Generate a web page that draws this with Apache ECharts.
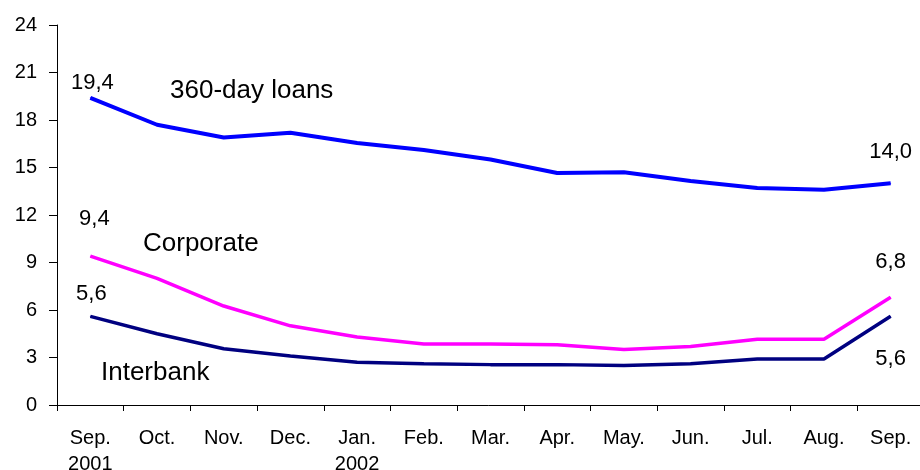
<!DOCTYPE html>
<html>
<head>
<meta charset="utf-8">
<script src="https://cdn.jsdelivr.net/npm/echarts@6/dist/echarts.min.js"></script>
<style>
  html, body { margin: 0; padding: 0; background: #fff; }
  #chart { width: 920px; height: 470px; }
</style>
</head>
<body>
<div id="chart"></div>
<script>
// Monthly interest rates, Sep. 2001 – Sep. 2002 (%)
const months = ['Sep.\n2001', 'Oct.', 'Nov.', 'Dec.', 'Jan.\n2002', 'Feb.', 'Mar.', 'Apr.', 'May.', 'Jun.', 'Jul.', 'Aug.', 'Sep.'];
const loans360 = [19.4, 17.7, 16.9, 17.2, 16.55, 16.1, 15.5, 14.65, 14.7, 14.15, 13.7, 13.6, 14.0];
const corporate = [9.4, 8.0, 6.25, 5.0, 4.3, 3.85, 3.85, 3.8, 3.5, 3.7, 4.15, 4.15, 6.8];
const interbank = [5.6, 4.5, 3.55, 3.1, 2.7, 2.6, 2.55, 2.55, 2.5, 2.6, 2.9, 2.9, 5.6];
const yTicks = [0, 3, 6, 9, 12, 15, 18, 21, 24];

const FONT = 'Liberation Sans, Arial, sans-serif';

// Show the value (with decimal comma) at the first and last point only
function endLabels(values) {
  return values.map((v, i) => {
    const item = { value: v };
    if (i === 0 || i === values.length - 1) {
      item.label = {
        show: true,
        position: 'top',
        formatter: p => p.value.toFixed(1).replace('.', ','),
        fontFamily: FONT,
        fontSize: 22,
        color: '#000'
      };
    }
    return item;
  });
}

// firstShift / lastShift: [dx, dy] nudges for the two end labels
function lineSeries(name, color, width, values, firstShift, lastShift) {
  const last = values.length - 1;
  return {
    name, type: 'line',
    symbol: 'circle', symbolSize: 1, showSymbol: true,
    itemStyle: { color: color },
    lineStyle: { color: color, width: width },
    labelLayout: p => {
      const s = p.dataIndex === last ? lastShift : firstShift;
      return { dx: s[0], dy: s[1], hideOverlap: false };
    },
    data: endLabels(values)
  };
}

const chart = echarts.init(document.getElementById('chart'));
chart.setOption({
  animation: false,
  backgroundColor: '#fff',
  grid: {
    left: 57, top: 25, width: 867, height: 380,
    containLabel: false, outerBoundsMode: 'none'
  },
  xAxis: {
    type: 'category',
    data: months,
    boundaryGap: true,
    axisLine: { lineStyle: { color: '#000', width: 1 } },
    axisTick: { show: true, length: 6, lineStyle: { color: '#000' } },
    axisLabel: {
      fontFamily: FONT, fontSize: 20, color: '#000',
      margin: 20, lineHeight: 26, interval: 0
    },
    splitLine: { show: false }
  },
  yAxis: {
    type: 'value',
    min: yTicks[0],
    max: yTicks[yTicks.length - 1],
    interval: 3,
    axisLine: { show: true, lineStyle: { color: '#000', width: 1 } },
    axisTick: { show: true, length: 8, lineStyle: { color: '#000' } },
    axisLabel: { fontFamily: FONT, fontSize: 20, color: '#000', margin: 20 },
    splitLine: { show: false }
  },
  series: [
    lineSeries('360-day loans', '#0000ff', 4, loans360, [2, 2], [0, -15]),
    lineSeries('Corporate', '#ff00ff', 3.5, corporate, [4, -21], [0, -19]),
    lineSeries('Interbank', '#000080', 3.5, interbank, [1, -6], [0, 59])
  ],
  graphic: [
    { type: 'text', left: 170, top: 78, style: { text: '360-day loans', font: '26px ' + FONT, fill: '#000' } },
    { type: 'text', left: 143, top: 231, style: { text: 'Corporate', font: '26px ' + FONT, fill: '#000' } },
    { type: 'text', left: 101, top: 360, style: { text: 'Interbank', font: '26px ' + FONT, fill: '#000' } }
  ]
});
</script>
</body>
</html>
